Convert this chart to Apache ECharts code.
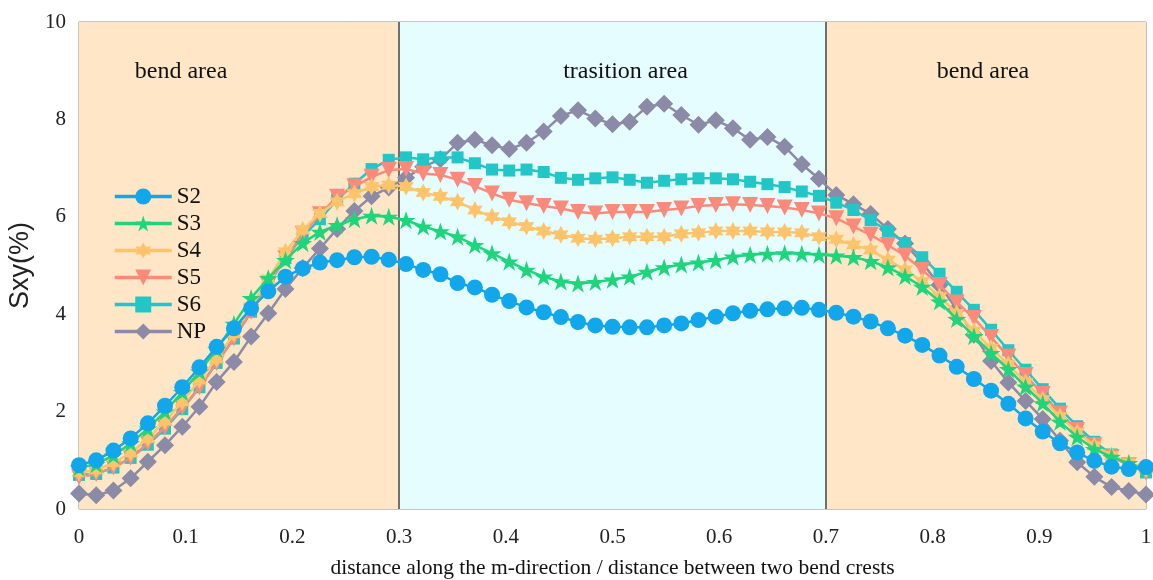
<!DOCTYPE html>
<html>
<head>
<meta charset="utf-8">
<script src="https://cdn.jsdelivr.net/npm/echarts@6/dist/echarts.min.js"></script>
<style>
  html, body { margin: 0; padding: 0; background: #fff; }
  #chart { width: 1153px; height: 580px; }
</style>
</head>
<body>
<div id="chart"></div>
<script>
// x positions (distance / crest spacing), 63 samples
const xs = [0, 0.0161, 0.0323, 0.0484, 0.0645, 0.0806, 0.0968, 0.1129, 0.1290, 0.1452,
  0.1613, 0.1774, 0.1935, 0.2097, 0.2258, 0.2419, 0.2581, 0.2742, 0.2903, 0.3065,
  0.3226, 0.3387, 0.3548, 0.3710, 0.3871, 0.4032, 0.4194, 0.4355, 0.4516, 0.4677,
  0.4839, 0.5, 0.5161, 0.5323, 0.5484, 0.5645, 0.5806, 0.5968, 0.6129, 0.6290,
  0.6452, 0.6613, 0.6774, 0.6935, 0.7097, 0.7258, 0.7419, 0.7581, 0.7742, 0.7903,
  0.8065, 0.8226, 0.8387, 0.8548, 0.8710, 0.8871, 0.9032, 0.9194, 0.9355, 0.9516,
  0.9677, 0.9839, 1]

const s2 = [0.90, 1.00, 1.20, 1.45, 1.76, 2.12, 2.50, 2.91, 3.33, 3.71,
  4.12, 4.47, 4.77, 4.94, 5.06, 5.11, 5.17, 5.18, 5.12, 5.03,
  4.91, 4.82, 4.64, 4.55, 4.40, 4.27, 4.14, 4.04, 3.94, 3.84,
  3.77, 3.74, 3.73, 3.73, 3.77, 3.81, 3.88, 3.95, 4.02, 4.07,
  4.10, 4.12, 4.13, 4.09, 4.03, 3.95, 3.85, 3.71, 3.56, 3.37,
  3.15, 2.92, 2.67, 2.43, 2.16, 1.86, 1.59, 1.35, 1.16, 0.99,
  0.87, 0.82, 0.86]
const s3 = [0.85, 0.92, 1.10, 1.35, 1.65, 2.00, 2.40, 2.82, 3.28, 3.80,
  4.33, 4.74, 5.11, 5.46, 5.69, 5.83, 5.95, 6.02, 6.00, 5.93,
  5.80, 5.70, 5.59, 5.42, 5.25, 5.08, 4.91, 4.77, 4.67, 4.63,
  4.66, 4.71, 4.77, 4.87, 4.96, 5.02, 5.06, 5.11, 5.18, 5.22,
  5.24, 5.25, 5.24, 5.22, 5.20, 5.17, 5.09, 4.96, 4.78, 4.56,
  4.26, 3.90, 3.55, 3.20, 2.87, 2.51, 2.17, 1.79, 1.48, 1.23,
  1.07, 0.94, 0.82]
const s4 = [0.75, 0.80, 0.95, 1.15, 1.45, 1.80, 2.20, 2.65, 3.08, 3.60,
  4.15, 4.72, 5.28, 5.73, 6.07, 6.31, 6.48, 6.62, 6.65, 6.62,
  6.50, 6.42, 6.31, 6.14, 6.00, 5.90, 5.80, 5.71, 5.63, 5.56,
  5.54, 5.56, 5.59, 5.59, 5.59, 5.65, 5.67, 5.71, 5.71, 5.71,
  5.69, 5.69, 5.67, 5.59, 5.54, 5.42, 5.32, 5.11, 4.91, 4.67,
  4.36, 4.02, 3.66, 3.30, 2.97, 2.60, 2.25, 1.90, 1.58, 1.30,
  1.10, 0.95, 0.82]
const s5 = [0.65, 0.72, 0.85, 1.05, 1.35, 1.68, 2.08, 2.50, 3.00, 3.50,
  4.05, 4.60, 5.15, 5.65, 6.05, 6.41, 6.62, 6.82, 6.96, 6.98,
  6.89, 6.86, 6.76, 6.63, 6.48, 6.35, 6.28, 6.22, 6.17, 6.10,
  6.07, 6.10, 6.10, 6.10, 6.14, 6.17, 6.22, 6.24, 6.26, 6.24,
  6.22, 6.19, 6.14, 6.07, 5.97, 5.80, 5.63, 5.42, 5.20, 4.91,
  4.60, 4.24, 3.92, 3.53, 3.13, 2.75, 2.36, 1.96, 1.62, 1.31,
  1.07, 0.90, 0.75]
const s6 = [0.70, 0.72, 0.85, 1.05, 1.32, 1.65, 2.05, 2.50, 3.00, 3.50,
  4.05, 4.62, 5.15, 5.60, 5.95, 6.35, 6.68, 6.98, 7.17, 7.22,
  7.18, 7.22, 7.22, 7.10, 6.97, 6.95, 6.97, 6.92, 6.80, 6.76,
  6.79, 6.81, 6.76, 6.70, 6.74, 6.77, 6.79, 6.79, 6.77, 6.72,
  6.67, 6.61, 6.52, 6.43, 6.29, 6.14, 5.93, 5.71, 5.46, 5.17,
  4.83, 4.46, 4.09, 3.68, 3.26, 2.86, 2.46, 2.06, 1.70, 1.38,
  1.12, 0.92, 0.75]
const np = [0.32, 0.28, 0.38, 0.63, 0.97, 1.31, 1.69, 2.10, 2.61, 3.02,
  3.54, 4.02, 4.52, 4.95, 5.35, 5.75, 6.12, 6.42, 6.60, 6.80,
  7.03, 7.18, 7.52, 7.58, 7.47, 7.39, 7.52, 7.75, 8.07, 8.19,
  8.02, 7.90, 7.95, 8.26, 8.32, 8.09, 7.89, 7.98, 7.82, 7.58,
  7.64, 7.44, 7.08, 6.78, 6.45, 6.26, 6.06, 5.75, 5.45, 5.05,
  4.60, 4.10, 3.58, 3.04, 2.60, 2.22, 1.85, 1.40, 0.96, 0.66,
  0.45, 0.37, 0.30]

const seriesNames = ['S2', 'S3', 'S4', 'S5', 'S6', 'NP']
const regions = [
  { name: 'bend area', from: 0, to: 0.3 },
  { name: 'trasition area', from: 0.3, to: 0.7 },
  { name: 'bend area', from: 0.7, to: 1 }
]

const star5 = 'path://M50,0L61.2,34.5L97.6,34.5L68.2,55.9L79.4,90.5L50,69.1L20.6,90.5L31.8,55.9L2.4,34.5L38.8,34.5Z'
const star6 = 'path://M50,0L63.75,26.2L93.3,25L77.5,50L93.3,75L63.75,73.8L50,100L36.25,73.8L6.7,75L22.5,50L6.7,25L36.25,26.2Z'

const serif = 'Liberation Serif'

function pairs(ys) {
  return xs.map((x, i) => [x, ys[i]])
}

function lineSeries(name, ys, color, symbol, size, z, rotate) {
  return {
    name: name,
    type: 'line',
    data: pairs(ys),
    z: z,
    symbol: symbol,
    symbolSize: size,
    symbolRotate: rotate || 0,
    symbolKeepAspect: true,
    lineStyle: { color: color, width: 2.5 },
    itemStyle: { color: color }
  }
}

const chart = echarts.init(document.getElementById('chart'))

chart.setOption({
  animation: false,
  backgroundColor: '#fff',
  grid: {
    left: 79,
    right: 7,
    top: 22,
    bottom: 71,
    outerBoundsMode: 'none',
    show: true,
    borderColor: '#8a8a8a',
    borderWidth: 1
  },
  legend: {
    data: seriesNames,
    orient: 'vertical',
    left: 108,
    top: 180,
    itemWidth: 57,
    itemHeight: 20,
    itemGap: 4,
    lineStyle: { width: 3.5 },
    textStyle: { fontFamily: serif, fontSize: 23, color: '#111' }
  },
  xAxis: {
    type: 'value',
    min: 0,
    max: 1,
    interval: 0.1,
    name: 'distance along the m-direction / distance between two bend crests',
    nameLocation: 'middle',
    nameGap: 48,
    nameTextStyle: { fontFamily: serif, fontSize: 21.5, color: '#111' },
    axisLine: { show: false },
    axisTick: { show: false },
    splitLine: { show: false },
    axisLabel: {
      margin: 18,
      fontFamily: serif,
      fontSize: 21,
      color: '#222',
      formatter: (v) => String(+v.toFixed(1))
    }
  },
  yAxis: {
    type: 'value',
    min: 0,
    max: 10,
    interval: 2,
    name: 'Sxy(%)',
    nameLocation: 'middle',
    nameGap: 45,
    nameTextStyle: { fontFamily: 'Liberation Sans', fontSize: 27, color: '#222' },
    axisLine: { show: false },
    axisTick: { show: false },
    splitLine: { show: false },
    axisLabel: { margin: 13, fontFamily: serif, fontSize: 21, color: '#222' }
  },
  series: [
    // backgrounds and region borders
    {
      name: 'regions',
      type: 'line',
      data: [],
      z: 1,
      markArea: {
        silent: true,
        z: 1,
        label: {
          show: true,
          position: 'insideTop',
          distance: 38,
          fontFamily: serif,
          fontSize: 24,
          color: '#111'
        },
        data: regions.map((r, i) => [
          {
            name: r.name,
            xAxis: r.from,
            itemStyle: { color: i === 1 ? '#e6fdff' : '#ffe6c6' },
            label: { offset: i === 0 ? [-58, 0] : (i === 1 ? [13, 0] : [-3, 0]) }
          },
          { xAxis: r.to }
        ])
      },
      markLine: {
        silent: true,
        z: 1,
        symbol: 'none',
        label: { show: false },
        lineStyle: { color: '#444', width: 1.5, type: 'solid' },
        data: [{ xAxis: 0.3 }, { xAxis: 0.7 }]
      }
    },
    lineSeries('S2', s2, '#12a6ea', 'circle', 16, 9),
    lineSeries('S3', s3, '#1fd57c', star5, 19, 8),
    lineSeries('S4', s4, '#fdc46c', star6, 18, 7),
    lineSeries('S5', s5, '#fc8a7b', 'triangle', 16, 6, 180),
    lineSeries('S6', s6, '#22c6c6', 'rect', 12, 5),
    lineSeries('NP', np, '#8b8ba8', 'diamond', 18, 4)
  ]
})
</script>
</body>
</html>
